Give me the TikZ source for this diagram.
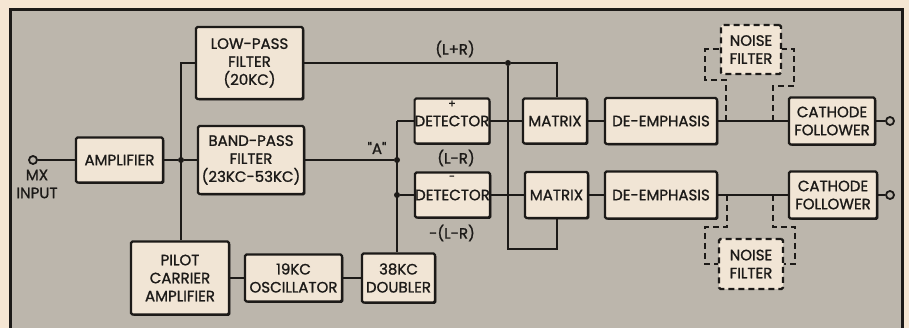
\documentclass[tikz,border=0pt]{standalone}
\usepackage{fontspec}
\setmainfont{Poppins}[BoldFont={Poppins}, BoldFeatures={FakeBold=1.2}]
\newfontfamily\qf{Poppins}[BoldFont={Poppins}, BoldFeatures={FakeBold=1.2}]
\usetikzlibrary{shadows}
\definecolor{outbg}{HTML}{F5E6D3}
\definecolor{inbg}{HTML}{BCB6AC}
\definecolor{boxbg}{HTML}{F1E5D5}
\definecolor{ink}{HTML}{1C1A18}
\begin{document}
\begin{tikzpicture}[x=1pt,y=-1pt,
  base/.style={draw=ink, fill=boxbg, line width=2.2pt, rounded corners=1.5pt, align=center, inner sep=0pt, font=\fontsize{15}{18}\selectfont\bfseries, text=ink},
  blk/.style={base, drop shadow={shadow xshift=1.3pt, shadow yshift=-1.3pt, fill=ink, opacity=1}},
  nf/.style={base, dash pattern=on 6pt off 4pt},
  sz/.style 2 args={minimum width=#1pt, minimum height=#2pt},
  wire/.style={draw=ink, line width=2pt},
  dwire/.style={wire, dash pattern=on 6pt off 4pt},
  lbl/.style={font=\fontsize{15}{18}\selectfont\bfseries, text=ink, inner sep=0pt, align=center},
  sml/.style={font=\fontsize{11}{12}\selectfont\bfseries, text=ink, inner sep=0pt},
  dot/.style={circle, fill=ink, inner sep=0pt, minimum size=6pt},
  term/.style={circle, draw=ink, line width=1.8pt, fill=inbg, inner sep=0pt, minimum size=8pt}
]
\useasboundingbox (0,0) rectangle (909,328);
\clip (0,0) rectangle (909,328);
\fill[outbg] (0,0) rectangle (909,328);
\draw[ink, line width=3pt, fill=inbg] (10,10) rectangle (902,345);

% blocks
\node[blk, sz={87}{45}] (amp) at (119.5,160) {AMPLIFIER};
\node[blk, sz={107}{72}] (lpf) at (249.5,63) {LOW-PASS\\FILTER\\(20KC)};
\node[blk, sz={106}{68}] (bpf) at (251,160) {BAND-PASS\\FILTER\\(23KC-53KC)};
\node[blk, sz={98}{73}] (pil) at (180,278) {PILOT\\CARRIER\\AMPLIFIER};
\node[blk, sz={97}{47}] (osc) at (293.5,278) {19KC\\OSCILLATOR};
\node[blk, sz={73}{49}] (dbl) at (398.5,278) {38KC\\DOUBLER};
\node[blk, sz={74}{45}] (detp) at (452,121) {DETECTOR};
\node[blk, sz={75}{45}] (detm) at (452.5,195) {DETECTOR};
\node[blk, sz={64}{45}] (matp) at (555,121) {MATRIX};
\node[blk, sz={63}{46}] (matm) at (556.5,195) {MATRIX};
\node[blk, sz={112}{46}] (dep) at (661,121) {DE-EMPHASIS};
\node[blk, sz={112}{47}] (dem) at (661,195) {DE-EMPHASIS};
\node[blk, sz={86}{47}] (cfp) at (832,121) {CATHODE\\FOLLOWER};
\node[blk, sz={88}{47}] (cfm) at (833,195) {CATHODE\\FOLLOWER};
\node[nf, sz={60}{49}] (nfp) at (751,49.5) {NOISE\\FILTER};
\node[nf, sz={64}{50}] (nfm) at (751,264) {NOISE\\FILTER};
\node[sml] (plus) at (452,104) {+};
\node[sml] (minus) at (452,178) {-};

% terminals and junctions
\node[term] (in) at (33,160) {};
\node[term] (outp) at (890,121) {};
\node[term] (outm) at (890,195) {};
\node[dot] (j1) at (181,160) {};
\node[dot] (ja) at (397,160) {};
\node[dot] (jm) at (397,195) {};
\node[dot] (jl) at (508,63) {};
\coordinate (j1t) at (181,63);
\coordinate (vt) at (397,121);
\coordinate (lb) at (508,249);
\coordinate (mb) at (557,249);
\coordinate (mt) at (557,63);

% wires
\draw[wire] (in) -- (amp);
\draw[wire] (amp) -- (j1) -- (bpf);
\draw[wire] (lpf.west) -- (j1t) -- (j1t |- pil.north);
\draw[wire] (lpf.east) -- (jl) -- (mt) -- (mt |- matp.north);
\draw[wire] (jl) -- (lb) -- (mb) -- (mb |- matm.south);
\draw[wire] (bpf) -- (ja);
\draw[wire] (vt) -- (vt |- dbl.north);
\draw[wire] (vt) -- (detp.west);
\draw[wire] (jm) -- (detm.west);
\draw[wire] (pil) -- (osc);
\draw[wire] (osc) -- (dbl);
\draw[wire] (detp) -- (matp) -- (dep) -- (cfp) -- (outp);
\draw[wire] (detm) -- (matm) -- (dem) -- (cfm) -- (outm);

% noise filter dashed connections
\coordinate (a1) at (726,121); \coordinate (a2) at (726,80);
\coordinate (a3) at (705,80);  \coordinate (a4) at (705,49.5);
\coordinate (b1) at (773,121); \coordinate (b2) at (773,86);
\coordinate (b3) at (794,86);  \coordinate (b4) at (794,49.5);
\coordinate (c1) at (727,195); \coordinate (c2) at (727,227);
\coordinate (c3) at (705,227); \coordinate (c4) at (705,264);
\coordinate (d1) at (773,195); \coordinate (d2) at (773,227);
\coordinate (d3) at (795,227); \coordinate (d4) at (795,264);
\draw[dwire] (a1) -- (a2) -- (a3) -- (a4) -- (nfp.west);
\draw[dwire] (b1) -- (b2) -- (b3) -- (b4) -- (nfp.east);
\draw[dwire] (c1) -- (c2) -- (c3) -- (c4) -- (nfm.west);
\draw[dwire] (d1) -- (d2) -- (d3) -- (d4) -- (nfm.east);

% labels
\node[lbl] (mx) at (37,184) {MX\\INPUT};
\node[lbl] (lr) at (455,49) {(L+R)};
\node[lbl] (qa) at (377,148) {\qf\bfseries "A"};
\node[lbl] (lmr) at (456,158) {(L-R)};
\node[lbl] (nlmr) at (452,233) {-(L-R)};
\end{tikzpicture}
\end{document}
